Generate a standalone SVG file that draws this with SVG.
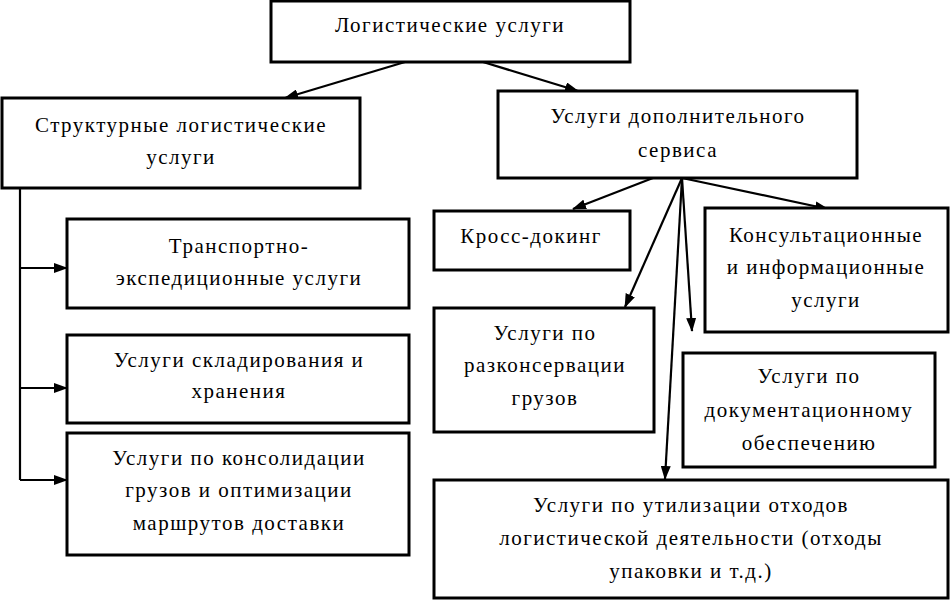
<svg xmlns="http://www.w3.org/2000/svg" width="950" height="601" viewBox="0 0 950 601">
<style>
.box{fill:#fff;stroke:#000;stroke-width:3}
.t{font-family:'Liberation Serif','DejaVu Serif',serif;font-size:21px;letter-spacing:1.5px;text-anchor:middle;fill:#000}
.c{fill:none;stroke:#000;stroke-width:2.2}
</style>
<defs>
<marker id="ah" markerUnits="userSpaceOnUse" markerWidth="14" markerHeight="10" refX="13" refY="5" orient="auto" viewBox="0 0 14 10">
<path d="M0,0 L14,5 L0,10 z" fill="#000"/>
</marker>
</defs>
<rect width="950" height="601" fill="#fff"/>
<g id="connectors">
<path class="c" d="M405,62 L285,98" marker-end="url(#ah)"/>
<path class="c" d="M483,62 L578,91" marker-end="url(#ah)"/>
<path class="c" d="M20,188 L20,480"/>
<path class="c" d="M20,268 L67,268" marker-end="url(#ah)"/>
<path class="c" d="M20,388 L67,388" marker-end="url(#ah)"/>
<path class="c" d="M20,480 L67,480" marker-end="url(#ah)"/>
<path class="c" d="M653,178 L573,209" marker-end="url(#ah)"/>
<path class="c" d="M682,178 L625,307" marker-end="url(#ah)"/>
<path class="c" d="M682,178 L692,331" marker-end="url(#ah)"/>
<path class="c" d="M682,178 L665,479" marker-end="url(#ah)"/>
<path class="c" d="M682,178 L828,209" marker-end="url(#ah)"/>
</g>
<g id="n-root"><rect class="box" x="271" y="1" width="359" height="61"/><text class="t" x="450" y="32">Логистические услуги</text></g>
<g id="n-struct"><rect class="box" x="2" y="98" width="358" height="90"/><text class="t" x="181" y="132">Структурные логистические</text><text class="t" x="181" y="164">услуги</text></g>
<g id="n-dop"><rect class="box" x="498" y="91" width="359" height="87"/><text class="t" x="678" y="123">Услуги дополнительного</text><text class="t" x="678" y="157">сервиса</text></g>
<g id="n-transp"><rect class="box" x="67" y="219" width="342" height="89"/><text class="t" x="239" y="253">Транспортно-</text><text class="t" x="239" y="285">экспедиционные услуги</text></g>
<g id="n-sklad"><rect class="box" x="67" y="335" width="342" height="88"/><text class="t" x="239" y="367">Услуги складирования и</text><text class="t" x="239" y="398">хранения</text></g>
<g id="n-konsol"><rect class="box" x="67" y="433" width="342" height="122"/><text class="t" x="239" y="465">Услуги по консолидации</text><text class="t" x="239" y="497">грузов и оптимизации</text><text class="t" x="239" y="530">маршрутов доставки</text></g>
<g id="n-cross"><rect class="box" x="434" y="211" width="196" height="59"/><text class="t" x="531" y="243">Кросс-докинг</text></g>
<g id="n-consult"><rect class="box" x="705" y="208" width="243" height="124"/><text class="t" x="826" y="242">Консультационные</text><text class="t" x="826" y="274">и информационные</text><text class="t" x="826" y="307">услуги</text></g>
<g id="n-razkons"><rect class="box" x="434" y="308" width="220" height="124"/><text class="t" x="545" y="340">Услуги по</text><text class="t" x="545" y="372">разконсервации</text><text class="t" x="545" y="405">грузов</text></g>
<g id="n-docum"><rect class="box" x="683" y="353" width="252" height="114"/><text class="t" x="809" y="383">Услуги по</text><text class="t" x="809" y="417">документационному</text><text class="t" x="809" y="450">обеспечению</text></g>
<g id="n-util"><rect class="box" x="434" y="480" width="514" height="118"/><text class="t" x="691" y="512">Услуги по утилизации отходов</text><text class="t" x="691" y="545">логистической деятельности (отходы</text><text class="t" x="691" y="578">упаковки и т.д.)</text></g>
</svg>
